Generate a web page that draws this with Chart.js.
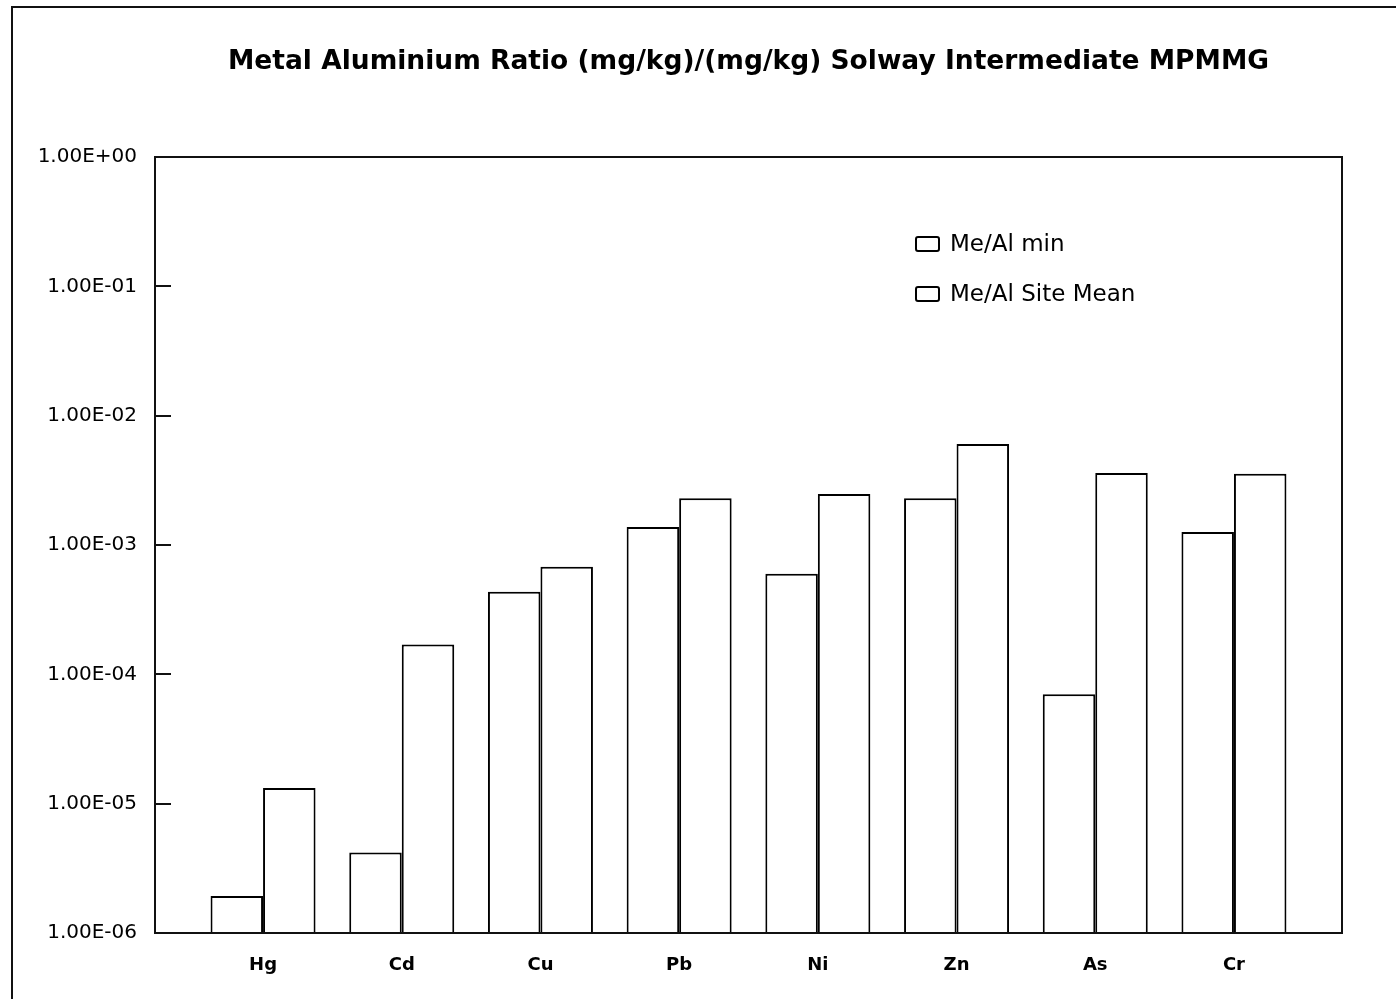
<!DOCTYPE html>
<html>
<head>
<meta charset="utf-8">
<title>Metal Aluminium Ratio</title>
<script src="https://cdn.jsdelivr.net/npm/chart.js@4"></script>
<style>
  html, body { margin: 0; padding: 0; background: #fff; }
  #wrap { width: 1396px; height: 999px; }
</style>
</head>
<body>
<div id="wrap"><canvas id="ratioChart" width="1396" height="999"></canvas></div>
<script>
// Me/Al ratios per metal, (mg/kg)/(mg/kg)
const metals = ['Hg', 'Cd', 'Cu', 'Pb', 'Ni', 'Zn', 'As', 'Cr'];
const ratioMin = [1.93e-6, 4.2e-6, 4.35e-4, 1.38e-3, 6.0e-4, 2.3e-3, 7.0e-5, 1.26e-3];
const ratioSiteMean = [1.32e-5, 1.7e-4, 6.8e-4, 2.3e-3, 2.48e-3, 6.05e-3, 3.6e-3, 3.55e-3];
const decadeTicks = [1e-6, 1e-5, 1e-4, 1e-3, 1e-2, 1e-1, 1e0];

const chartTitle = 'Metal Aluminium Ratio (mg/kg)/(mg/kg) Solway Intermediate MPMMG';
const FONT = '"DejaVu Sans", Verdana, sans-serif';

function sciLabel(v) {
  const exp = Math.round(Math.log10(v));
  return '1.00E' + (exp < 0 ? '-' : '+') + String(Math.abs(exp)).padStart(2, '0');
}

function asPoints(values) {
  return values.map((v, i) => ({ x: i, y: v }));
}

// frame round the figure, box round the plot, short inward ticks, title
const framePlugin = {
  id: 'frame',
  beforeDraw(chart) {
    const c = chart.ctx;
    c.save();
    c.fillStyle = '#fff';
    c.fillRect(0, 0, chart.width, chart.height);
    c.strokeStyle = '#111';
    c.lineWidth = 2;
    c.beginPath();
    c.moveTo(12, chart.height);
    c.lineTo(12, 7);
    c.lineTo(chart.width, 7);
    c.stroke();
    c.restore();
  },
  afterDraw(chart) {
    const c = chart.ctx;
    const a = chart.chartArea;
    const y = chart.scales.y;
    c.save();
    c.strokeStyle = '#111';
    c.lineWidth = 2;
    c.strokeRect(a.left, a.top, a.right - a.left, a.bottom - a.top);
    c.beginPath();
    decadeTicks.forEach(v => {
      const py = Math.round(y.getPixelForValue(v));
      c.moveTo(a.left, py);
      c.lineTo(a.left + 16, py);
    });
    c.stroke();

    c.fillStyle = '#000';
    c.font = 'bold 26.5px ' + FONT;
    c.textAlign = 'center';
    c.textBaseline = 'middle';
    c.fillText(chartTitle, (a.left + a.right) / 2, 62);
    c.restore();
  }
};

// legend placed inside the plot, upper right
const boxLegend = {
  id: 'boxLegend',
  afterDraw(chart) {
    const c = chart.ctx;
    c.save();
    c.font = '23px ' + FONT;
    c.textBaseline = 'middle';
    c.fillStyle = '#000';
    c.strokeStyle = '#000';
    c.lineWidth = 2;
    chart.data.datasets.forEach((ds, i) => {
      const cy = 244 + i * 50;
      c.beginPath();
      c.roundRect(916, cy - 7, 23, 14, 2);
      c.stroke();
      c.fillText(ds.label, 950, cy + 1);
    });
    c.restore();
  }
};

const data = {
  datasets: [
    {
      label: 'Me/Al min',
      data: asPoints(ratioMin),
      backgroundColor: '#fff',
      borderColor: '#000',
      borderWidth: 2,
      borderSkipped: 'bottom'
    },
    {
      label: 'Me/Al Site Mean',
      data: asPoints(ratioSiteMean),
      backgroundColor: '#fff',
      borderColor: '#000',
      borderWidth: 2,
      borderSkipped: 'bottom'
    }
  ]
};

const config = {
  type: 'bar',
  data,
  options: {
    responsive: false,
    animation: false,
    layout: { padding: { left: 0, right: 54, top: 157, bottom: 0 } },
    datasets: {
      bar: { categoryPercentage: 0.757, barPercentage: 1.0 }
    },
    scales: {
      x: {
        type: 'linear',
        min: -0.779,
        max: 7.779,
        offset: false,
        grid: { display: false, drawTicks: false },
        border: { display: false },
        afterBuildTicks(s) { s.ticks = metals.map((m, i) => ({ value: i })); },
        ticks: {
          color: '#000',
          padding: 22,
          autoSkip: false,
          maxRotation: 0,
          font: { family: FONT, size: 18, weight: 'bold' },
          callback: v => metals[v]
        },
        afterFit(s) { s.height = 66; }
      },
      y: {
        type: 'logarithmic',
        min: 1e-6,
        max: 1,
        grid: { display: false, drawTicks: false },
        border: { display: false },
        afterBuildTicks(s) { s.ticks = decadeTicks.map(v => ({ value: v })); },
        ticks: {
          color: '#000',
          padding: 18,
          font: { family: FONT, size: 20 },
          callback: v => sciLabel(v)
        },
        afterFit(s) { s.width = 155; }
      }
    },
    plugins: {
      legend: { display: false },
      tooltip: { enabled: false },
      title: { display: false }
    }
  },
  plugins: [framePlugin, boxLegend]
};

new Chart(document.getElementById('ratioChart'), config);
</script>
</body>
</html>
